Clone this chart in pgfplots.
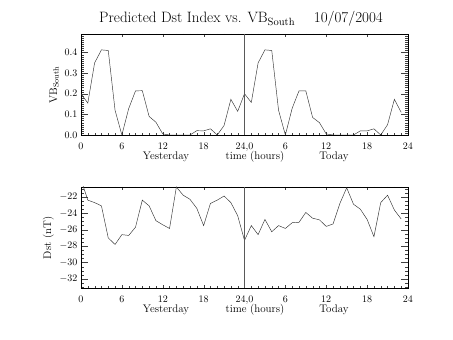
\documentclass[border=0pt]{standalone}
\usepackage{pgfplots}
\pgfplotsset{compat=1.18}
\pgfplotstableread{
h v
0 0.20
1 0.155
2 0.35
3 0.413
4 0.41
5 0.12
6 0.0
7 0.128
8 0.214
9 0.215
10 0.09
11 0.062
12 0.005
13 0.0
14 0.0
15 0.0
16 0.0
17 0.021
18 0.02
19 0.03
20 0.0
21 0.046
22 0.173
23 0.115
24 0.20
25 0.158
26 0.35
27 0.413
28 0.41
29 0.12
30 0.0
31 0.13
32 0.214
33 0.214
34 0.085
35 0.06
36 0.005
37 0.0
38 0.0
39 0.0
40 0.0
41 0.02
42 0.02
43 0.03
44 0.0
45 0.05
46 0.173
47 0.11
}\vbdata
\pgfplotstableread{
h d
0 -19.9
1 -22.4
2 -22.7
3 -23.1
4 -27.0
5 -27.8
6 -26.6
7 -26.7
8 -25.7
9 -22.4
10 -23.1
11 -24.9
12 -25.4
13 -25.85
14 -20.8
15 -21.8
16 -22.3
17 -23.4
18 -25.5
19 -22.8
20 -22.4
21 -21.9
22 -22.7
23 -24.3
24 -27.3
25 -25.5
26 -26.6
27 -24.75
28 -26.25
29 -25.5
30 -25.85
31 -25.15
32 -25.1
33 -23.9
34 -24.6
35 -24.8
36 -25.6
37 -25.3
38 -22.8
39 -20.9
40 -22.9
41 -23.5
42 -24.75
43 -26.85
44 -22.7
45 -21.8
46 -23.6
47 -24.7
}\dstdata
\begin{document}
\begin{tikzpicture}
\path[use as bounding box] (0pt,0pt) rectangle (453pt,340pt);
\pgfplotsset{
  mystyle/.style={
    scale only axis, width=327pt, height=101pt, anchor=south west,
    xmin=0, xmax=48, xtick={0,6,...,48},
    xticklabels={0,6,12,18,{24,0},6,12,18,24},
    minor x tick num=5,
    tick align=inside,
    xtick style={/pgfplots/major tick length=3pt,/pgfplots/minor tick length=1.5pt},
    ytick style={/pgfplots/major tick length=6.5pt,/pgfplots/minor tick length=3.2pt},
    axis line style={line width=0.5pt},
    tick style={black!75},
    tick label style={font=\fontsize{10}{12}\selectfont},
    xticklabel style={yshift=-4.5pt},
  }
}
\begin{axis}[mystyle, at={(81pt,205pt)},
  ymin=0, ymax=0.49, ytick={0,0.1,0.2,0.3,0.4,0.5}, minor y tick num=9,
  yticklabel style={/pgf/number format/.cd, fixed, fixed zerofill, precision=1}]
\addplot[black!80, line width=0.45pt] table[x=h, y=v] {\vbdata};
\addplot[black!65, line width=0.4pt] coordinates {(24,0) (24,0.49)};
\end{axis}
\begin{axis}[mystyle, at={(81pt,52pt)},
  ymin=-33.1, ymax=-20.8, ytick={-34,-32,...,-20}, minor y tick num=3]
\addplot[black!80, line width=0.45pt] table[x=h, y=d] {\dstdata};
\addplot[black!65, line width=0.4pt] coordinates {(24,-33.1) (24,-20.8)};
\end{axis}
\begin{scope}[every node/.style={font=\fontsize{11}{13}\selectfont, inner sep=0pt}]
\node[anchor=base] at (166pt,180pt) {Yesterday};
\node[anchor=base] at (255pt,180pt) {time (hours)};
\node[anchor=base] at (334pt,180pt) {Today};
\node[anchor=base] at (166pt,27pt) {Yesterday};
\node[anchor=base] at (255pt,27pt) {time (hours)};
\node[anchor=base] at (334pt,27pt) {Today};
\node[anchor=base, rotate=90] at (57pt,255pt) {VB\textsubscript{South}};
\node[anchor=base, rotate=90] at (51pt,102pt) {Dst (nT)};
\node[anchor=base west, font=\fontsize{15}{18}\selectfont] at (99pt,317pt) {Predicted Dst Index vs. VB\textsubscript{South}};
\node[anchor=base east, font=\fontsize{15}{18}\selectfont] at (383pt,317pt) {10/07/2004};
\end{scope}
\end{tikzpicture}
\end{document}
